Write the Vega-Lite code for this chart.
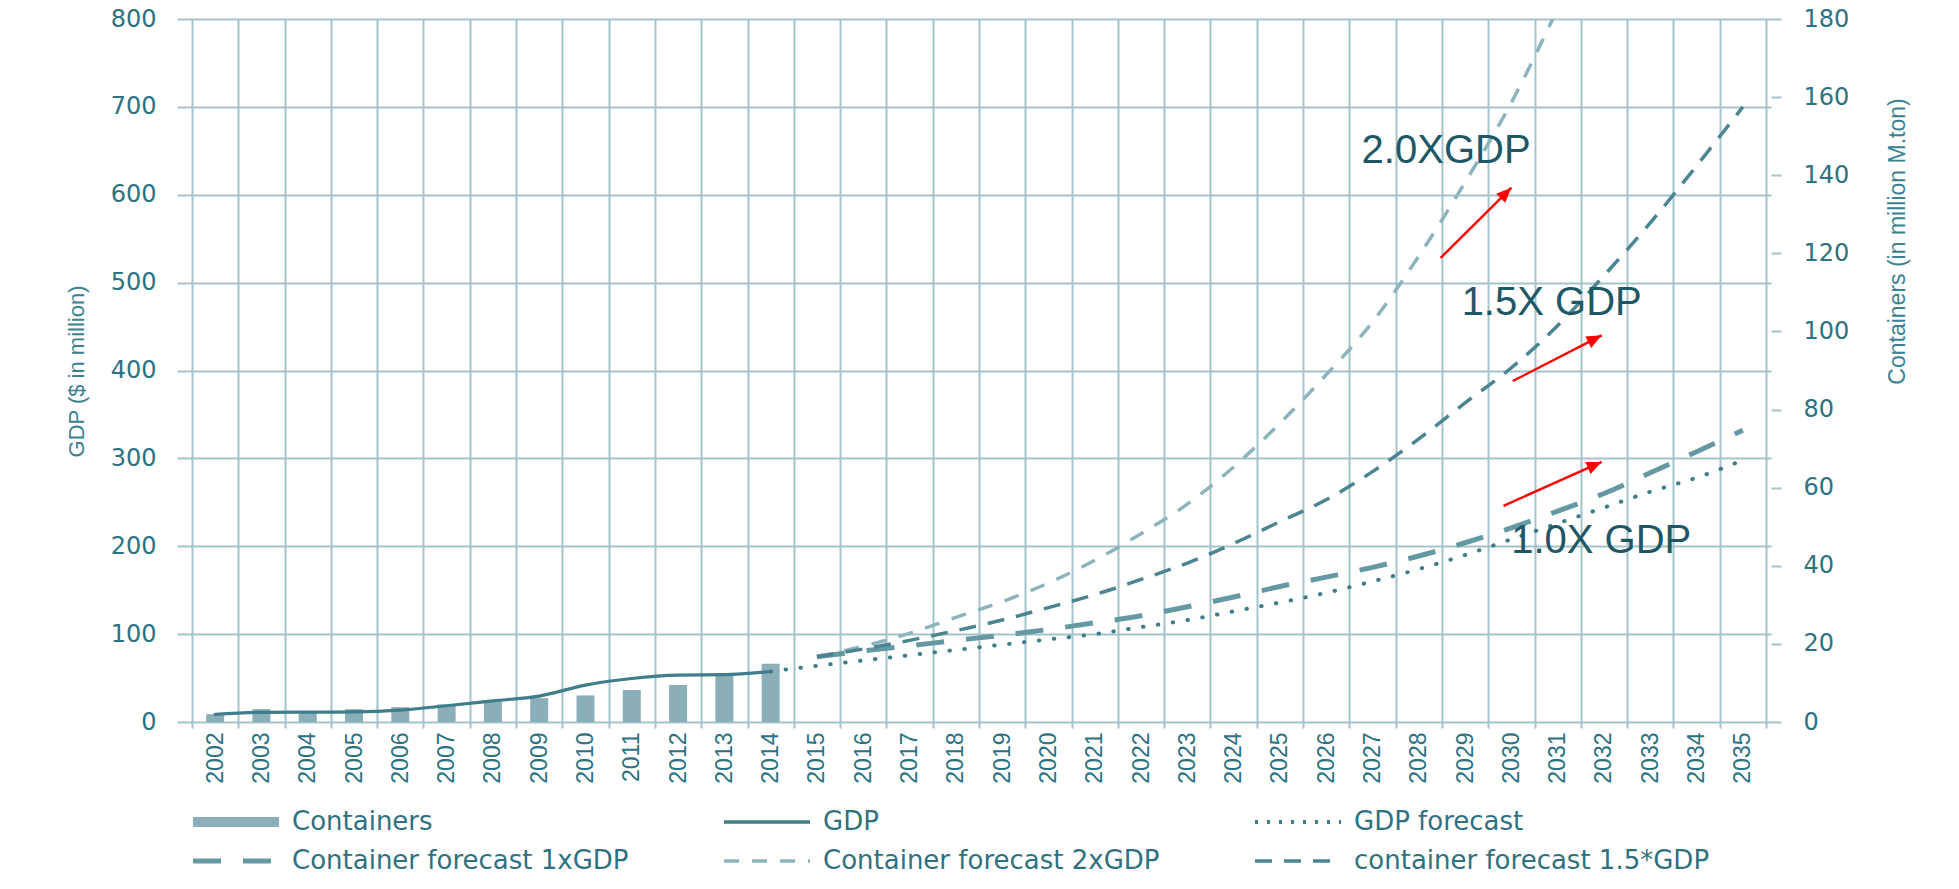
{
  "$schema": "https://vega.github.io/schema/vega-lite/v6.json",
  "width": 1584,
  "height": 703,
  "autosize": "none",
  "padding": {"left": 187, "top": 19, "right": 188, "bottom": 167},
  "background": "#ffffff",
  "config": {
    "view": {"stroke": null},
    "axis": {
      "gridColor": "#a3c3cb",
      "gridWidth": 2,
      "tickColor": "#a3c3cb",
      "tickWidth": 2,
      "domain": false,
      "labelColor": "#2c7282",
      "titleColor": "#3a8191",
      "titleFontWeight": "normal"
    },
    "legend": {
      "orient": "none",
      "legendX": 1,
      "legendY": 790,
      "direction": "horizontal",
      "columns": 3,
      "columnPadding": 90,
      "rowPadding": 13,
      "padding": 0,
      "clipHeight": 26,
      "symbolType": "stroke",
      "symbolSize": 7396,
      "symbolOffset": 0,
      "labelFont": "DejaVu Sans",
      "labelFontSize": 26,
      "labelColor": "#2f7181",
      "labelOffset": 8,
      "labelLimit": 1000
    }
  },
  "datasets": {
    "containers": [
      {"year": 2002, "series": "Containers", "value": 2.0},
      {"year": 2003, "series": "Containers", "value": 3.3},
      {"year": 2004, "series": "Containers", "value": 2.4},
      {"year": 2005, "series": "Containers", "value": 3.3},
      {"year": 2006, "series": "Containers", "value": 3.8},
      {"year": 2007, "series": "Containers", "value": 4.5},
      {"year": 2008, "series": "Containers", "value": 5.6},
      {"year": 2009, "series": "Containers", "value": 6.1},
      {"year": 2010, "series": "Containers", "value": 6.8},
      {"year": 2011, "series": "Containers", "value": 8.2},
      {"year": 2012, "series": "Containers", "value": 9.5},
      {"year": 2013, "series": "Containers", "value": 12.2},
      {"year": 2014, "series": "Containers", "value": 14.9}
    ],
    "gdp": [
      {"year": 2002, "series": "GDP", "value": 8.7},
      {"year": 2003, "series": "GDP", "value": 11.0},
      {"year": 2004, "series": "GDP", "value": 11.2},
      {"year": 2005, "series": "GDP", "value": 11.5},
      {"year": 2006, "series": "GDP", "value": 13.5},
      {"year": 2007, "series": "GDP", "value": 18.5},
      {"year": 2008, "series": "GDP", "value": 24.0},
      {"year": 2009, "series": "GDP", "value": 29.5},
      {"year": 2010, "series": "GDP", "value": 42.0},
      {"year": 2011, "series": "GDP", "value": 49.5},
      {"year": 2012, "series": "GDP", "value": 53.3},
      {"year": 2013, "series": "GDP", "value": 53.8},
      {"year": 2014, "series": "GDP", "value": 57.5}
    ],
    "gdp_forecast": [
      {"year": 2014, "series": "GDP forecast", "value": 57.5},
      {"year": 2015, "series": "GDP forecast", "value": 64},
      {"year": 2016, "series": "GDP forecast", "value": 70},
      {"year": 2017, "series": "GDP forecast", "value": 76},
      {"year": 2018, "series": "GDP forecast", "value": 82},
      {"year": 2019, "series": "GDP forecast", "value": 88},
      {"year": 2020, "series": "GDP forecast", "value": 94},
      {"year": 2021, "series": "GDP forecast", "value": 100},
      {"year": 2022, "series": "GDP forecast", "value": 108},
      {"year": 2023, "series": "GDP forecast", "value": 116},
      {"year": 2024, "series": "GDP forecast", "value": 126},
      {"year": 2025, "series": "GDP forecast", "value": 136},
      {"year": 2026, "series": "GDP forecast", "value": 147},
      {"year": 2027, "series": "GDP forecast", "value": 160},
      {"year": 2028, "series": "GDP forecast", "value": 174},
      {"year": 2029, "series": "GDP forecast", "value": 190},
      {"year": 2030, "series": "GDP forecast", "value": 208},
      {"year": 2031, "series": "GDP forecast", "value": 226},
      {"year": 2032, "series": "GDP forecast", "value": 244},
      {"year": 2033, "series": "GDP forecast", "value": 262},
      {"year": 2034, "series": "GDP forecast", "value": 278},
      {"year": 2035, "series": "GDP forecast", "value": 298}
    ],
    "container_forecast": [
      {"year": 2015, "series": "Container forecast 1xGDP", "value": 16.7},
      {"year": 2016, "series": "Container forecast 1xGDP", "value": 18.2},
      {"year": 2017, "series": "Container forecast 1xGDP", "value": 19.5},
      {"year": 2018, "series": "Container forecast 1xGDP", "value": 20.9},
      {"year": 2019, "series": "Container forecast 1xGDP", "value": 22.2},
      {"year": 2020, "series": "Container forecast 1xGDP", "value": 23.7},
      {"year": 2021, "series": "Container forecast 1xGDP", "value": 25.4},
      {"year": 2022, "series": "Container forecast 1xGDP", "value": 27.2},
      {"year": 2023, "series": "Container forecast 1xGDP", "value": 29.5},
      {"year": 2024, "series": "Container forecast 1xGDP", "value": 32.0},
      {"year": 2025, "series": "Container forecast 1xGDP", "value": 34.7},
      {"year": 2026, "series": "Container forecast 1xGDP", "value": 37.1},
      {"year": 2027, "series": "Container forecast 1xGDP", "value": 39.6},
      {"year": 2028, "series": "Container forecast 1xGDP", "value": 42.5},
      {"year": 2029, "series": "Container forecast 1xGDP", "value": 45.9},
      {"year": 2030, "series": "Container forecast 1xGDP", "value": 49.7},
      {"year": 2031, "series": "Container forecast 1xGDP", "value": 54.0},
      {"year": 2032, "series": "Container forecast 1xGDP", "value": 58.5},
      {"year": 2033, "series": "Container forecast 1xGDP", "value": 63.8},
      {"year": 2034, "series": "Container forecast 1xGDP", "value": 69.2},
      {"year": 2035, "series": "Container forecast 1xGDP", "value": 74.7},
      {"year": 2015, "series": "Container forecast 2xGDP", "value": 16.7},
      {"year": 2016, "series": "Container forecast 2xGDP", "value": 19.4},
      {"year": 2017, "series": "Container forecast 2xGDP", "value": 22.7},
      {"year": 2018, "series": "Container forecast 2xGDP", "value": 26.8},
      {"year": 2019, "series": "Container forecast 2xGDP", "value": 30.8},
      {"year": 2020, "series": "Container forecast 2xGDP", "value": 35.6},
      {"year": 2021, "series": "Container forecast 2xGDP", "value": 41.4},
      {"year": 2022, "series": "Container forecast 2xGDP", "value": 48.2},
      {"year": 2023, "series": "Container forecast 2xGDP", "value": 55.8},
      {"year": 2024, "series": "Container forecast 2xGDP", "value": 65.3},
      {"year": 2025, "series": "Container forecast 2xGDP", "value": 76.5},
      {"year": 2026, "series": "Container forecast 2xGDP", "value": 88.9},
      {"year": 2027, "series": "Container forecast 2xGDP", "value": 102.4},
      {"year": 2028, "series": "Container forecast 2xGDP", "value": 119.3},
      {"year": 2029, "series": "Container forecast 2xGDP", "value": 138.2},
      {"year": 2030, "series": "Container forecast 2xGDP", "value": 158.6},
      {"year": 2031, "series": "Container forecast 2xGDP", "value": 182.7},
      {"year": 2015, "series": "container forecast 1.5*GDP", "value": 16.7},
      {"year": 2016, "series": "container forecast 1.5*GDP", "value": 18.7},
      {"year": 2017, "series": "container forecast 1.5*GDP", "value": 20.9},
      {"year": 2018, "series": "container forecast 1.5*GDP", "value": 23.4},
      {"year": 2019, "series": "container forecast 1.5*GDP", "value": 26.1},
      {"year": 2020, "series": "container forecast 1.5*GDP", "value": 29.3},
      {"year": 2021, "series": "container forecast 1.5*GDP", "value": 32.6},
      {"year": 2022, "series": "container forecast 1.5*GDP", "value": 36.5},
      {"year": 2023, "series": "container forecast 1.5*GDP", "value": 40.7},
      {"year": 2024, "series": "container forecast 1.5*GDP", "value": 45.7},
      {"year": 2025, "series": "container forecast 1.5*GDP", "value": 51.3},
      {"year": 2026, "series": "container forecast 1.5*GDP", "value": 56.9},
      {"year": 2027, "series": "container forecast 1.5*GDP", "value": 64.1},
      {"year": 2028, "series": "container forecast 1.5*GDP", "value": 72.5},
      {"year": 2029, "series": "container forecast 1.5*GDP", "value": 81.7},
      {"year": 2030, "series": "container forecast 1.5*GDP", "value": 90.7},
      {"year": 2031, "series": "container forecast 1.5*GDP", "value": 101.5},
      {"year": 2032, "series": "container forecast 1.5*GDP", "value": 114.3},
      {"year": 2033, "series": "container forecast 1.5*GDP", "value": 127.8},
      {"year": 2034, "series": "container forecast 1.5*GDP", "value": 142.4},
      {"year": 2035, "series": "container forecast 1.5*GDP", "value": 157.5}
    ],
    "notes": [
      {"text": "2.0XGDP", "year": 2028.59, "gdp": 636},
      {"text": "1.5X GDP", "year": 2030.87, "gdp": 463},
      {"text": "1.0X GDP", "year": 2031.94, "gdp": 192}
    ],
    "arrows": [
      {"name": "2.0x", "year": 2028.47, "gdp": 528, "year_end": 2030.0, "gdp_end": 608},
      {"name": "1.5x", "year": 2030.03, "gdp": 388, "year_end": 2031.95, "gdp_end": 440},
      {"name": "1.0x", "year": 2029.83, "gdp": 246, "year_end": 2031.95, "gdp_end": 296}
    ]
  },
  "layer": [
    {
      "layer": [
        {
          "data": {"name": "containers"},
          "mark": {"type": "bar", "width": 18},
          "encoding": {
            "x": {
              "field": "year", "type": "quantitative",
              "scale": {"domain": [2001.5, 2035.5], "nice": false, "zero": false},
              "axis": {
                "orient": "bottom",
                "title": null,
                "values": [2002, 2003, 2004, 2005, 2006, 2007, 2008, 2009, 2010, 2011, 2012, 2013, 2014, 2015, 2016, 2017, 2018, 2019, 2020, 2021, 2022, 2023, 2024, 2025, 2026, 2027, 2028, 2029, 2030, 2031, 2032, 2033, 2034, 2035],
                "format": "d",
                "labelAngle": -90,
                "labelFont": "Liberation Sans",
                "labelFontSize": 23,
                "labelPadding": 10,
                "labelFlush": false,
                "labelOverlap": false,
                "labelBound": false,
                "ticks": false,
                "tickSize": 0,
                "grid": false,
                "domain": false
              }
            },
            "y": {
              "field": "value", "type": "quantitative",
              "scale": {"domain": [0, 180], "nice": false, "zero": true},
              "axis": {
                "orient": "right",
                "values": [0, 20, 40, 60, 80, 100, 120, 140, 160, 180],
                "grid": false,
                "tickSize": 10,
                "labelPadding": 22,
                "labelFont": "DejaVu Sans",
                "labelFontSize": 24,
                "title": "Containers (in million M.ton)",
                "titleFont": "Liberation Sans",
                "titleFontSize": 23,
                "titleAngle": -90,
                "titleBaseline": "top",
                "titleAlign": "center",
                "titleX": 115,
                "titleY": 222
              }
            },
            "color": {
              "field": "series", "type": "nominal",
              "scale": {
                "domain": ["Containers", "GDP", "GDP forecast", "Container forecast 1xGDP", "Container forecast 2xGDP", "container forecast 1.5*GDP"],
                "range": ["#8aafb8", "#3f7d8a", "#3f7d8a", "#6498a3", "#8db4bd", "#4a8591"]
              },
              "legend": {"title": null, "symbolType": "stroke"}
            }
          }
        },
        {
          "data": {"name": "container_forecast"},
          "mark": {"type": "line", "interpolate": "monotone", "clip": true},
          "encoding": {
            "x": {"field": "year", "type": "quantitative", "scale": {"domain": [2001.5, 2035.5], "nice": false, "zero": false}},
            "y": {"field": "value", "type": "quantitative"},
            "color": {"field": "series", "type": "nominal", "legend": {"title": null, "symbolType": "stroke"}},
            "strokeDash": {
              "field": "series", "type": "nominal",
              "scale": {
                "domain": ["Containers", "GDP", "GDP forecast", "Container forecast 1xGDP", "Container forecast 2xGDP", "container forecast 1.5*GDP"],
                "range": [[1, 0], [1, 0], [3, 9], [28, 22], [15, 13], [17, 12]]
              },
              "legend": {"title": null, "symbolType": "stroke"}
            },
            "strokeWidth": {
              "field": "series", "type": "nominal",
              "scale": {
                "type": "ordinal",
                "domain": ["Containers", "GDP", "GDP forecast", "Container forecast 1xGDP", "Container forecast 2xGDP", "container forecast 1.5*GDP"],
                "range": [10, 3.5, 4, 5, 3.5, 3.5]
              },
              "legend": {"title": null, "symbolType": "stroke"}
            }
          }
        }
      ]
    },
    {
      "layer": [
        {
          "data": {"name": "gdp"},
          "mark": {"type": "line", "interpolate": "monotone", "strokeWidth": 3.2, "strokeCap": "round"},
          "encoding": {
            "x": {
              "field": "year", "type": "quantitative",
              "scale": {"domain": [2001.5, 2035.5], "nice": false, "zero": false},
              "axis": {
                "orient": "bottom",
                "title": null,
                "values": [2001.5, 2002.5, 2003.5, 2004.5, 2005.5, 2006.5, 2007.5, 2008.5, 2009.5, 2010.5, 2011.5, 2012.5, 2013.5, 2014.5, 2015.5, 2016.5, 2017.5, 2018.5, 2019.5, 2020.5, 2021.5, 2022.5, 2023.5, 2024.5, 2025.5, 2026.5, 2027.5, 2028.5, 2029.5, 2030.5, 2031.5, 2032.5, 2033.5, 2034.5, 2035.5],
                "labels": false,
                "ticks": true,
                "tickSize": 6,
                "grid": true,
                "domain": false
              }
            },
            "y": {
              "field": "value", "type": "quantitative",
              "scale": {"domain": [0, 800], "nice": false, "zero": true},
              "axis": {
                "orient": "left",
                "values": [0, 100, 200, 300, 400, 500, 600, 700, 800],
                "grid": true,
                "tickSize": 10,
                "labelPadding": 21,
                "labelFont": "DejaVu Sans",
                "labelFontSize": 24,
                "title": "GDP ($ in million)",
                "titleFont": "Liberation Sans",
                "titleFontSize": 22,
                "titleAngle": -90,
                "titleBaseline": "bottom",
                "titleAlign": "center",
                "titleX": -99,
                "titleY": 352
              }
            },
            "color": {"field": "series", "type": "nominal", "legend": {"title": null, "symbolType": "stroke"}}
          }
        },
        {
          "data": {"name": "gdp_forecast"},
          "mark": {"type": "line", "interpolate": "monotone", "strokeWidth": 4, "strokeCap": "round", "strokeDash": [0.5, 14.5]},
          "encoding": {
            "x": {"field": "year", "type": "quantitative", "scale": {"domain": [2001.5, 2035.5], "nice": false, "zero": false}},
            "y": {"field": "value", "type": "quantitative"},
            "color": {"field": "series", "type": "nominal", "legend": {"title": null, "symbolType": "stroke"}}
          }
        },
        {
          "data": {"name": "notes"},
          "mark": {"type": "text", "font": "Liberation Sans", "fontSize": 40, "color": "#1e5766", "align": "center", "baseline": "alphabetic"},
          "encoding": {
            "x": {"field": "year", "type": "quantitative", "scale": {"domain": [2001.5, 2035.5], "nice": false, "zero": false}},
            "y": {"field": "gdp", "type": "quantitative"},
            "text": {"field": "text", "type": "nominal"}
          }
        },
        {
          "data": {"name": "arrows"},
          "mark": {"type": "rule", "color": "#ff0000", "strokeWidth": 2.4},
          "encoding": {
            "x": {"field": "year", "type": "quantitative", "scale": {"domain": [2001.5, 2035.5], "nice": false, "zero": false}},
            "x2": {"field": "year_end"},
            "y": {"field": "gdp", "type": "quantitative"},
            "y2": {"field": "gdp_end"}
          }
        },
        {
          "data": {"name": "arrows"},
          "transform": [{"filter": "datum.name === '2.0x'"}],
          "mark": {"type": "point", "shape": "M0,0L-0.45,1.05L0.45,1.05Z", "filled": true, "color": "#ff0000", "opacity": 1, "size": 818, "angle": 45.4},
          "encoding": {
            "x": {"field": "year_end", "type": "quantitative", "scale": {"domain": [2001.5, 2035.5], "nice": false, "zero": false}},
            "y": {"field": "gdp_end", "type": "quantitative"}
          }
        },
        {
          "data": {"name": "arrows"},
          "transform": [{"filter": "datum.name === '1.5x'"}],
          "mark": {"type": "point", "shape": "M0,0L-0.45,1.05L0.45,1.05Z", "filled": true, "color": "#ff0000", "opacity": 1, "size": 818, "angle": 62.9},
          "encoding": {
            "x": {"field": "year_end", "type": "quantitative", "scale": {"domain": [2001.5, 2035.5], "nice": false, "zero": false}},
            "y": {"field": "gdp_end", "type": "quantitative"}
          }
        },
        {
          "data": {"name": "arrows"},
          "transform": [{"filter": "datum.name === '1.0x'"}],
          "mark": {"type": "point", "shape": "M0,0L-0.45,1.05L0.45,1.05Z", "filled": true, "color": "#ff0000", "opacity": 1, "size": 818, "angle": 66.0},
          "encoding": {
            "x": {"field": "year_end", "type": "quantitative", "scale": {"domain": [2001.5, 2035.5], "nice": false, "zero": false}},
            "y": {"field": "gdp_end", "type": "quantitative"}
          }
        }
      ]
    }
  ],
  "resolve": {
    "scale": {"y": "independent"},
    "axis": {"x": "independent", "y": "independent"}
  }
}
